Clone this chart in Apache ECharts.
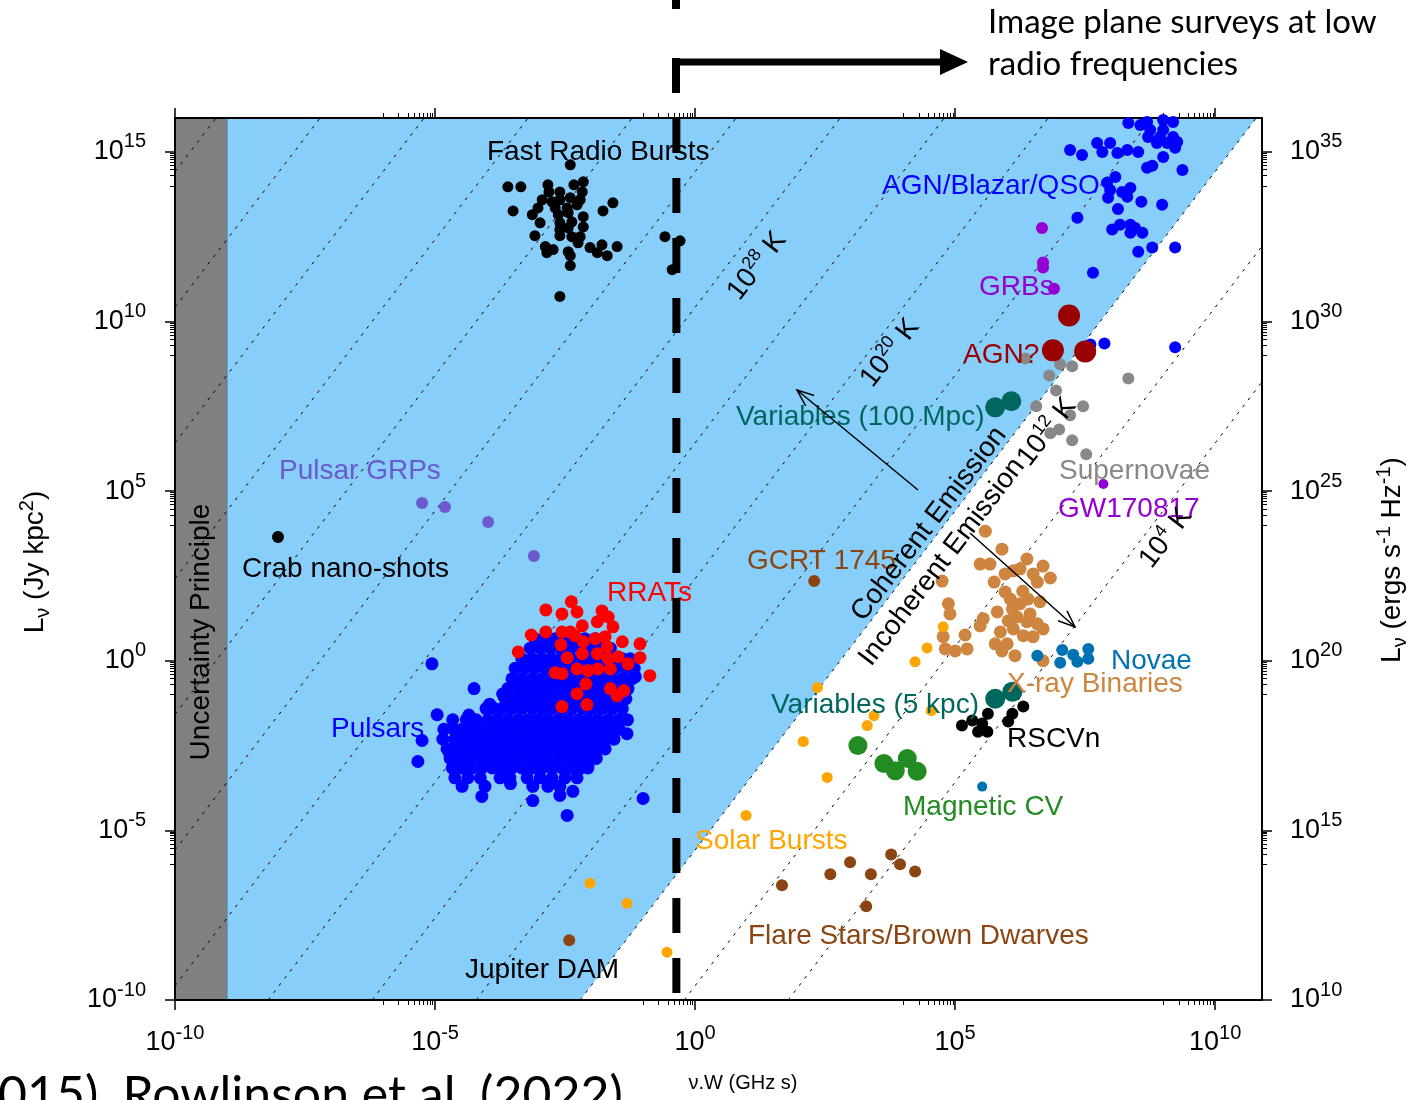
<!DOCTYPE html>
<html>
<head>
<meta charset="utf-8">
<script src="https://cdn.jsdelivr.net/npm/echarts@6/dist/echarts.min.js"></script>
<style>html,body{margin:0;padding:0;background:#fff}#chart{width:1417px;height:1100px}</style>
</head>
<body>
<div id="chart"></div>
<script>
// ---- axis set-up (values are log10: x = log10(nu*W / GHz s), y = log10(L_nu / Jy kpc^2)) ----
const X_MIN = -10, X_MAX = 10.9, Y_MIN = -10, Y_MAX = 16;
const xMajorTicks = [-10, -5, 0, 5, 10];
const yMajorTicks = [-10, -5, 0, 5, 10, 15];
const rightAxisOffset = 20;            // ergs s^-1 Hz^-1 = Jy kpc^2 + 20 dex
const uncertaintyLimitLogW = -9;       // uncertainty principle band edge
const tempLineExps = [4, 8, 12, 16, 20, 24, 28, 32, 36, 40, 44, 48, 52]; // log10 T_b of dotted lines
const coherentLimitExp = 12;           // 10^12 K boundary
const tempLineConst = -17.58;          // logL = 2 logW + logT + const
const surveyLimitLogW = -0.36;         // low-frequency image-plane survey limit

// ---- source classes [log10 nuW, log10 L] ----
const frbs = [[-2.40,14.62],[-3.60,13.97],[-3.35,13.97],[-2.83,14.03],[-2.81,13.82],[-2.60,13.82],[-2.33,14.03],[-2.15,14.12],[-2.17,13.82],[-1.58,13.50],[-2.94,13.59],[-2.75,13.53],[-2.60,13.59],[-2.40,13.65],[-2.21,13.59],[-3.02,13.35],[-2.69,13.35],[-2.46,13.35],[-2.27,13.44],[-3.50,13.26],[-3.13,13.15],[-2.63,13.15],[-2.44,13.21],[-1.77,13.26],[-2.15,13.09],[-2.98,12.91],[-2.60,12.91],[-2.37,12.94],[-2.15,12.79],[-2.60,12.71],[-2.44,12.76],[-3.08,12.53],[-2.60,12.53],[-2.37,12.50],[-2.21,12.50],[-2.25,12.32],[-2.88,12.21],[-2.73,12.12],[-2.85,12.03],[-2.44,12.06],[-2.40,11.94],[-2.02,12.18],[-1.88,12.03],[-1.79,12.26],[-1.69,11.94],[-1.50,12.21],[-2.40,11.65],[-2.60,10.74],[-0.58,12.50],[-0.29,12.38],[-0.44,11.53]];
const agnBlazarQso = [[8.33,15.85],[8.56,15.79],[8.69,15.88],[9.00,15.94],[9.19,15.88],[8.75,15.65],[9.00,15.65],[8.71,15.44],[8.94,15.44],[9.19,15.44],[9.27,15.29],[8.88,15.26],[9.08,15.26],[9.23,15.12],[9.00,14.85],[7.21,15.06],[7.44,14.91],[7.73,15.26],[7.98,15.26],[7.83,15.00],[8.12,14.97],[8.31,15.06],[8.52,15.00],[8.69,14.53],[8.79,14.59],[9.37,14.47],[8.08,14.26],[7.92,14.09],[7.98,13.88],[7.94,13.65],[8.21,13.82],[8.37,13.94],[8.31,13.68],[8.58,13.53],[8.98,13.44],[8.13,13.32],[7.35,13.06],[8.02,12.71],[8.17,12.85],[8.37,12.85],[8.46,12.76],[8.60,12.62],[8.37,12.62],[8.52,12.06],[8.79,12.18],[9.23,12.18],[7.65,11.44],[7.60,9.32],[7.87,9.35],[9.23,9.24]];
const grbs = [[6.67,12.76],[6.69,11.74],[6.69,11.59],[6.90,10.97]];
const agnCandidates = [[7.19,10.18],[6.88,9.15],[7.50,9.12]];
const variables100Mpc = [[5.77,7.47],[6.08,7.65]];
const supernovae = [[6.35,8.91],[7.02,8.74],[7.25,8.68],[6.81,8.41],[6.94,7.97],[8.33,8.32],[6.56,7.50],[7.46,7.50],[7.21,7.24],[7.00,6.82],[6.83,6.71],[7.25,6.50],[7.52,6.09]];
const gw170817 = [[7.85,5.21]];
const pulsarGrps = [[-5.25,4.65],[-4.81,4.53],[-3.98,4.09],[-3.10,3.09]];
const crabNanoShots = [[-8.02,3.65]];
const gcrt1745 = [[2.29,2.35]];
const jupiterDam = [[-2.42,-8.24]];
const rrats = [[-2.87,1.50],[-2.38,1.74],[-2.56,1.38],[-2.27,1.44],[-1.79,1.47],[-1.67,1.29],[-3.15,0.76],[-2.87,0.85],[-2.56,0.85],[-2.40,0.85],[-2.17,1.03],[-1.88,1.15],[-1.58,1.00],[-3.40,0.26],[-2.58,0.47],[-2.31,0.74],[-2.15,0.56],[-1.92,0.65],[-1.73,0.71],[-1.69,0.41],[-1.40,0.56],[-1.06,0.50],[-2.46,0.09],[-2.17,0.21],[-1.88,0.21],[-1.67,0.06],[-1.48,0.12],[-1.29,-0.09],[-1.06,0.09],[-0.87,-0.44],[-2.69,-0.35],[-2.56,-0.38],[-2.27,-0.24],[-2.06,-0.29],[-1.87,-0.24],[-1.63,-0.24],[-2.10,-0.68],[-2.27,-0.97],[-2.08,-1.29],[-2.56,-1.35],[-1.63,-0.82],[-1.50,-1.03],[-1.37,-0.88]];
// pulsar cloud, read row by row: [logL, [logW ...]]
const pulsarRows = [
  [0.65, [-3.08,-2.88,-2.69,-2.50,-2.31,-2.12,-1.92]],
  [0.37, [-3.17,-2.98,-2.79,-2.60,-2.40,-2.21,-2.02,-1.83,-1.63]],
  [0.06, [-3.33,-3.13,-2.94,-2.75,-2.56,-2.37,-2.17,-1.98,-1.79,-1.60,-1.40,-1.25]],
  [-0.22, [-3.46,-3.27,-3.08,-2.88,-2.69,-2.50,-2.31,-2.12,-1.92,-1.73,-1.54,-1.35,-1.17]],
  [-0.53, [-3.52,-3.33,-3.13,-2.94,-2.75,-2.56,-2.37,-2.17,-1.98,-1.79,-1.60,-1.40,-1.21]],
  [-0.82, [-4.25,-3.60,-3.40,-3.21,-3.02,-2.83,-2.63,-2.44,-2.25,-2.06,-1.87,-1.67,-1.48,-1.29]],
  [-1.12, [-3.65,-3.46,-3.27,-3.08,-2.88,-2.69,-2.50,-2.31,-2.12,-1.92,-1.73,-1.54,-1.33]],
  [-1.41, [-4.02,-3.86,-3.71,-3.52,-3.33,-3.13,-2.94,-2.75,-2.56,-2.37,-2.17,-1.98,-1.79,-1.60,-1.40]],
  [-1.74, [-4.66,-4.40,-4.21,-3.98,-3.79,-3.60,-3.40,-3.21,-3.02,-2.83,-2.63,-2.44,-2.25,-2.06,-1.87,-1.67,-1.48,-1.30]],
  [-2.02, [-4.83,-4.64,-4.48,-4.29,-4.10,-3.90,-3.71,-3.52,-3.33,-3.13,-2.94,-2.75,-2.56,-2.37,-2.17,-1.98,-1.79,-1.60,-1.46]],
  [-2.31, [-4.85,-4.62,-4.42,-4.23,-4.04,-3.85,-3.65,-3.46,-3.27,-3.08,-2.88,-2.69,-2.50,-2.31,-2.12,-1.92,-1.73,-1.56]],
  [-2.60, [-4.77,-4.56,-4.37,-4.17,-3.98,-3.79,-3.60,-3.40,-3.21,-3.02,-2.83,-2.63,-2.44,-2.25,-2.06,-1.87,-1.73]],
  [-2.88, [-4.71,-4.52,-4.33,-4.13,-3.94,-3.75,-3.56,-3.37,-3.17,-2.98,-2.79,-2.60,-2.40,-2.21,-2.02,-1.90]],
  [-3.16, [-4.67,-4.48,-4.29,-4.10,-3.90,-3.71,-3.52,-3.33,-3.13,-2.94,-2.75,-2.56,-2.37,-2.19,-2.06]],
  [-3.45, [-4.62,-4.37,-4.13,-3.75,-3.56,-3.23,-2.98,-2.75,-2.50,-2.27]],
  [-3.70, [-4.48,-4.04,-3.12,-2.83,-2.60]]
];
const pulsarOutliers = [[-5.06,-0.09],[-4.96,-1.59],[-5.25,-2.35],[-5.33,-2.97],[-1.00,-4.06],[-2.46,-4.56],[-4.10,-4.00],[-3.12,-4.12],[-2.60,-3.97],[-1.15,-0.47],[-1.31,-2.15],[-2.06,-3.09],[-4.35,-1.60],[-3.95,-1.28],[-3.70,-0.98],[-4.72,-2.75],[-2.35,-3.85],[-3.55,-3.62]];
const xrayBinaries = [[5.58,3.82],[5.90,3.29],[6.38,3.00],[6.69,2.79],[6.83,2.44],[5.48,2.85],[5.67,2.85],[5.75,2.32],[5.96,2.56],[6.12,2.65],[6.25,2.71],[6.50,2.56],[6.58,2.32],[5.96,2.03],[4.75,2.35],[6.40,1.82],[6.63,1.74],[4.87,1.68],[4.90,1.38],[5.48,1.03],[5.54,1.24],[5.19,0.76],[5.81,1.44],[6.10,1.53],[6.02,1.18],[6.19,1.29],[6.38,1.15],[6.58,1.09],[6.69,0.94],[5.87,0.85],[6.12,0.94],[6.31,0.74],[6.50,0.71],[5.77,0.50],[6.00,0.50],[5.90,0.29],[4.77,0.71],[4.81,0.35],[5.00,0.29],[5.23,0.35],[6.15,0.15],[6.69,0.00],[6.25,1.68],[6.44,1.38],[6.06,1.82],[6.30,2.05]];
const novae = [[6.58,0.15],[7.06,0.32],[7.02,-0.06],[7.27,0.18],[7.35,-0.03],[7.56,0.35],[7.56,0.06]];
const novaeFaint = [[5.52,-3.71]];
const variables5kpc = [[5.77,-1.12],[6.10,-0.91]];
const rsCVn = [[5.13,-1.91],[5.33,-1.76],[5.52,-1.85],[5.63,-1.56],[5.44,-2.09],[5.62,-2.09],[6.02,-1.79],[6.10,-1.56],[6.31,-1.35]];
const magneticCV = [[3.13,-2.50],[3.63,-3.03],[3.85,-3.24],[4.08,-2.88],[4.27,-3.26]];
const solarBursts = [[-2.02,-6.56],[-1.31,-7.15],[-0.54,-8.59],[0.98,-4.56],[2.54,-3.44],[2.08,-2.38],[2.35,-0.79],[3.31,-1.91],[3.44,-1.62],[4.23,-0.03],[4.46,0.38],[4.77,1.00],[4.54,-1.47]];
const flareStars = [[1.67,-6.62],[2.60,-6.29],[2.98,-5.94],[3.38,-6.29],[3.77,-5.71],[3.94,-6.00],[4.23,-6.21],[3.29,-7.24]];

const pulsars = pulsarRows.flatMap(([l, ws]) => ws.map(w => [w, l])).concat(pulsarOutliers);

// ---- styling ----
const FONT = "'Liberation Sans', Arial, Helvetica, sans-serif";
const TEAL = '#00675f', PURPLE = '#9400D3', BROWN = '#8B4513';

const tickRich = {
  b: {fontSize: 27, fontFamily: FONT, color: '#000', lineHeight: 40},
  s: {fontSize: 20, fontFamily: FONT, color: '#000', lineHeight: 20, verticalAlign: 'top'}
};
const powLabel = off => v => '{b|10}{s|' + (Math.round(v) + off) + '}';
function minorValues(majors, lo, hi) {
  const out = [];
  majors.forEach(n => { for (let k = 1; k <= 9; k++) { const v = n - 1 + Math.log10(k); if (v > lo && v < hi) out.push(v); } });
  return out;
}
function axisPair(position, lo, hi, majors, labelOffset, showLabel, margin) {
  const base = {type: 'value', min: lo, max: hi, position, splitLine: {show: false}, axisPointer: {show: false}};
  return [
    Object.assign({}, base, {
      axisLine: {show: true, onZero: false, lineStyle: {color: '#000', width: 2}},
      axisTick: {show: true, inside: false, length: 10, customValues: majors, lineStyle: {color: '#000', width: 1.5}},
      axisLabel: showLabel ? {show: true, customValues: majors, formatter: powLabel(labelOffset), rich: tickRich, margin} : {show: false}
    }),
    Object.assign({}, base, {
      axisLine: {show: false, onZero: false},
      axisTick: {show: true, inside: false, length: 5, customValues: minorValues(majors, lo, hi), lineStyle: {color: '#000', width: 1}},
      axisLabel: {show: false}
    })
  ];
}

const series = [];
// regions: uncertainty band + coherent (T > 1e12 K) zone
series.push({
  type: 'custom', silent: true, z: 0, clip: true, data: [[X_MIN, Y_MIN]],
  renderItem: (params, api) => {
    const p = (w, l) => api.coord([w, l]);
    const c = coherentLimitExp + tempLineConst;
    const wb = (Y_MIN - c) / 2, wt = (Y_MAX - c) / 2;
    return {type: 'group', children: [
      {type: 'polygon', shape: {points: [p(X_MIN, Y_MIN), p(uncertaintyLimitLogW, Y_MIN), p(uncertaintyLimitLogW, Y_MAX), p(X_MIN, Y_MAX)]}, style: {fill: '#808080'}},
      {type: 'polygon', shape: {points: [p(uncertaintyLimitLogW, Y_MIN), p(wb, Y_MIN), p(wt, Y_MAX), p(uncertaintyLimitLogW, Y_MAX)]}, style: {fill: '#87CEFA'}},
      {type: 'polyline', shape: {points: [p(uncertaintyLimitLogW, Y_MIN), p(uncertaintyLimitLogW, Y_MAX)]}, style: {stroke: '#5f7f9c', lineWidth: 1.2, fill: null}}
    ]};
  }
});
// constant brightness temperature lines
tempLineExps.forEach(t => {
  const c = t + tempLineConst;
  series.push({type: 'line', silent: true, z: 1, symbol: 'none', clip: true, animation: false,
    data: [[(Y_MIN - c) / 2, Y_MIN], [(Y_MAX - c) / 2, Y_MAX]],
    lineStyle: {color: '#000', width: 1, type: [3, 6]}});
});
function sc(name, data, color, size) {
  return {type: 'scatter', name, data, symbol: 'circle', symbolSize: size, z: 3, silent: true, animation: false,
    itemStyle: {color, opacity: 1, borderWidth: 0}};
}
series.push(
  sc('Pulsars', pulsars, '#0000FF', 13),
  sc('RRATs', rrats, '#FF0000', 13),
  sc('Fast Radio Bursts', frbs, '#000000', 11),
  sc('AGN/Blazar/QSO', agnBlazarQso, '#0000FF', 12),
  sc('GRBs', grbs, PURPLE, 12),
  sc('Supernovae', supernovae, '#888888', 12),
  sc('AGN?', agnCandidates, '#990000', 22),
  sc('Variables (100 Mpc)', variables100Mpc, TEAL, 20),
  sc('GW170817', gw170817, PURPLE, 10),
  sc('Pulsar GRPs', pulsarGrps, '#6A5ACD', 12),
  sc('Crab nano-shots', crabNanoShots, '#000000', 12),
  sc('GCRT 1745', gcrt1745, BROWN, 12),
  sc('X-ray Binaries', xrayBinaries, '#CD853F', 13),
  sc('Novae', novae, '#0072B2', 12),
  sc('Novae faint', novaeFaint, '#0072B2', 10),
  sc('Variables (5 kpc)', variables5kpc, TEAL, 20),
  sc('RSCVn', rsCVn, '#000000', 12),
  sc('Magnetic CV', magneticCV, '#228B22', 19),
  sc('Solar Bursts', solarBursts, '#FFA500', 11),
  sc('Flare Stars/Brown Dwarves', flareStars, BROWN, 12),
  sc('Jupiter DAM', jupiterDam, BROWN, 12)
);
// survey limit (thick dashed vertical)
series.push({type: 'line', silent: true, z: 6, symbol: 'none', clip: false, animation: false,
  data: [[surveyLimitLogW, Y_MAX], [surveyLimitLogW, Y_MIN]],
  lineStyle: {color: '#000', width: 8, type: [35, 25], cap: 'butt'}});

// ---- annotations ----
const labels = [
  ['Fast Radio Bursts', 487, 152, '#000'],
  ['AGN/Blazar/QSO', 882, 186, '#0000FF'],
  ['GRBs', 979, 287, PURPLE],
  ['AGN?', 963, 355, '#990000'],
  ['Variables (100 Mpc)', 736, 417, TEAL],
  ['Supernovae', 1059, 471, '#888888'],
  ['GW170817', 1058, 509, PURPLE],
  ['Pulsar GRPs', 279, 471, '#6A5ACD'],
  ['Crab nano-shots', 242, 569, '#000'],
  ['GCRT 1745', 747, 561, BROWN],
  ['RRATs', 607, 593, '#FF0000'],
  ['Pulsars', 331, 729, '#0000FF'],
  ['Novae', 1111, 661, '#0072B2'],
  ['X-ray Binaries', 1007, 684, '#CD853F'],
  ['Variables (5 kpc)', 771, 705, TEAL],
  ['RSCVn', 1007, 739, '#000'],
  ['Magnetic CV', 903, 807, '#228B22'],
  ['Solar Bursts', 695, 841, '#FFA500'],
  ['Flare Stars/Brown Dwarves', 748, 936, BROWN],
  ['Jupiter DAM', 465, 970, '#000']
];
const ANG = Math.atan(2 * 33.92 / 52.0);
const tempLabels = [['28', 757, 266], ['20', 890, 353], ['12', 1047, 432], ['4', 1166, 538]];

const graphic = [];
labels.forEach(([t, x, y, c]) => graphic.push({type: 'text', x, y, z: 4, silent: true,
  style: {text: t, fill: c, fontSize: 28, fontFamily: FONT, align: 'left', verticalAlign: 'middle'}}));
tempLabels.forEach(([e, x, y]) => graphic.push({type: 'text', x, y, rotation: ANG, z: 4, silent: true,
  style: {text: '{n|10}{s|' + e + '}{n| K}', fill: '#000', align: 'center', verticalAlign: 'middle',
    rich: {n: {fontSize: 28, fontFamily: FONT, lineHeight: 34, fill: '#000'}, s: {fontSize: 18, fontFamily: FONT, lineHeight: 18, verticalAlign: 'top', fill: '#000'}}}}));
graphic.push({type: 'text', x: 929, y: 524, rotation: ANG, z: 4, silent: true,
  style: {text: 'Coherent Emission', fill: '#000', fontSize: 28, fontFamily: FONT, align: 'center', verticalAlign: 'middle'}});
graphic.push({type: 'text', x: 942, y: 562, rotation: ANG, z: 4, silent: true,
  style: {text: 'Incoherent Emission', fill: '#000', fontSize: 28, fontFamily: FONT, align: 'center', verticalAlign: 'middle'}});
graphic.push({type: 'text', x: 201, y: 632, rotation: Math.PI / 2, z: 4, silent: true,
  style: {text: 'Uncertainty Principle', fill: '#000', fontSize: 28, fontFamily: FONT, align: 'center', verticalAlign: 'middle'}});

function arrow(x1, y1, x2, y2, w, head) {
  const a = Math.atan2(y2 - y1, x2 - x1);
  const h1 = [x2 - head * Math.cos(a - 0.38), y2 - head * Math.sin(a - 0.38)];
  const h2 = [x2 - head * Math.cos(a + 0.38), y2 - head * Math.sin(a + 0.38)];
  return [
    {type: 'line', z: 5, silent: true, shape: {x1, y1, x2, y2}, style: {stroke: '#000', lineWidth: w}},
    {type: 'polyline', z: 5, silent: true, shape: {points: [h1, [x2, y2], h2]}, style: {stroke: '#000', lineWidth: w, fill: null}}
  ];
}
graphic.push(...arrow(918, 490, 797, 390, 1.5, 18));
graphic.push(...arrow(970, 533, 1075, 627, 1.5, 18));

// survey arrow above plot
const CAL = 'Lato, "Open Sans", sans-serif';
graphic.push({type: 'line', z: 6, silent: true, shape: {x1: 676, y1: 58, x2: 676, y2: 93}, style: {stroke: '#000', lineWidth: 8}});
graphic.push({type: 'line', z: 6, silent: true, shape: {x1: 672, y1: 62, x2: 944, y2: 62}, style: {stroke: '#000', lineWidth: 7}});
graphic.push({type: 'polygon', z: 6, silent: true, shape: {points: [[940, 49], [968, 62], [940, 75]]}, style: {fill: '#000'}});
graphic.push({type: 'rect', z: 6, silent: true, shape: {x: 672, y: 0, width: 8, height: 9}, style: {fill: '#000'}});
graphic.push({type: 'text', x: 988, y: 22, z: 6, silent: true,
  style: {text: 'Image plane surveys at low', fill: '#000', fontSize: 33, fontFamily: CAL, align: 'left', verticalAlign: 'middle'}});
graphic.push({type: 'text', x: 988, y: 64, z: 6, silent: true,
  style: {text: 'radio frequencies', fill: '#000', fontSize: 33, fontFamily: CAL, align: 'left', verticalAlign: 'middle'}});
graphic.push({type: 'text', x: -2, y: 1096, z: 6, silent: true,
  style: {text: '015), Rowlinson et al. (2022)', fill: '#000', fontSize: 50, fontFamily: CAL, align: 'left', verticalAlign: 'middle'}});

// axis names
const nameRich = {
  n: {fontSize: 28, fontFamily: FONT, lineHeight: 36, fill: '#000'},
  sub: {fontSize: 20, fontFamily: FONT, lineHeight: 20, verticalAlign: 'bottom', fill: '#000'},
  sup: {fontSize: 20, fontFamily: FONT, lineHeight: 20, verticalAlign: 'top', fill: '#000'}
};
graphic.push({type: 'text', x: 35, y: 562, rotation: Math.PI / 2, z: 6, silent: true,
  style: {text: '{n|L}{sub|ν}{n| (Jy kpc}{sup|2}{n|)}', rich: nameRich, align: 'center', verticalAlign: 'middle'}});
graphic.push({type: 'text', x: 1392, y: 560, rotation: Math.PI / 2, z: 6, silent: true,
  style: {text: '{n|L}{sub|ν}{n| (ergs s}{sup|-1}{n| Hz}{sup|-1}{n|)}', rich: nameRich, align: 'center', verticalAlign: 'middle'}});
graphic.push({type: 'text', x: 743, y: 1083, z: 6, silent: true,
  style: {text: 'ν.W (GHz s)', fill: '#000', fontSize: 20, fontFamily: FONT, align: 'center', verticalAlign: 'middle'}});

const chart = echarts.init(document.getElementById('chart'), null, {renderer: 'canvas'});
chart.setOption({
  animation: false,
  backgroundColor: '#fff',
  grid: {left: 175, top: 118, width: 1087, height: 882, show: false, containLabel: false},
  xAxis: [
    ...axisPair('bottom', X_MIN, X_MAX, xMajorTicks, 0, true, 23),
    ...axisPair('top', X_MIN, X_MAX, xMajorTicks, 0, false, 0)
  ],
  yAxis: [
    ...axisPair('left', Y_MIN, Y_MAX, yMajorTicks, 0, true, 29),
    ...axisPair('right', Y_MIN, Y_MAX, yMajorTicks, rightAxisOffset, true, 28)
  ],
  series,
  graphic
});
</script>
</body>
</html>
